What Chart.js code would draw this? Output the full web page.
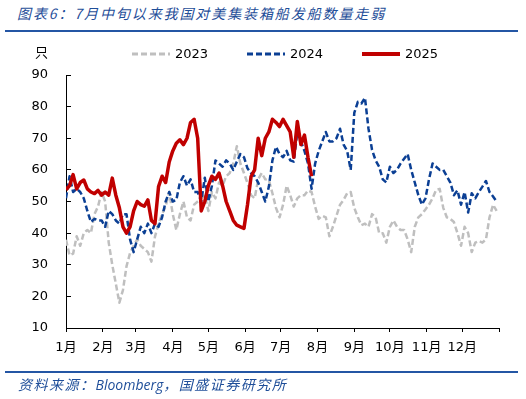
<!DOCTYPE html>
<html>
<head>
<meta charset="utf-8">
<script src="https://cdn.jsdelivr.net/npm/chart.js@4/dist/chart.umd.min.js"></script>
<style>
  body { margin: 0; background: #fff; }
  #wrap { position: relative; width: 526px; height: 399px; background: #fff; overflow: hidden; }
  #chart { position: absolute; left: 0; top: 0; }
  .title { position: absolute; left: 17px; top: 5px; font: italic 14px "Noto Sans CJK SC", sans-serif; letter-spacing: 1.9px; color: #1f4e99; line-height: 17px; white-space: nowrap; }
  .rule { position: absolute; left: 5px; width: 513px; height: 2px; background: #2456a4; }
  .source { position: absolute; left: 18px; top: 376px; font: italic 14px "Noto Sans CJK SC", sans-serif; letter-spacing: 1.5px; color: #1f4e99; line-height: 17px; white-space: nowrap; }
  .source span { font-family: "Open Sans", sans-serif; letter-spacing: 0; }
</style>
</head>
<body>
<div id="wrap">
  <div class="title">图表6：7月中旬以来我国对美集装箱船发船数量走弱</div>
  <div class="rule" style="top:30px"></div>
  <canvas id="chart" width="526" height="399"></canvas>
  <div class="rule" style="top:371px"></div>
  <div class="source">资料来源：<span>Bloomberg</span>，国盛证券研究所</div>
</div>
<script>
// 横轴：一年中的第几天（每3天取一个点），月初位置做刻度
const sampleDays = [0,3,6,9,12,15,18,21,24,27,30,33,36,39,42,45,48,51,54,57,60,63,66,69,72,75,78,81,84,87,
  90,93,96,99,102,105,108,111,114,117,120,123,126,129,132,135,138,141,144,147,150,153,156,159,162,165,168,171,174,177,
  180,183,186,189,192,195,198,201,204,207,210,213,216,219,222,225,228,231,234,237,240,243,246,249,252,255,258,261,264,267,
  270,273,276,279,282,285,288,291,294,297,300,303,306,309,312,315,318,321,324,327,330,333,336,339,342,345,348,351,354,357,
  360,363];
const monthStarts = [0, 31, 59, 90, 120, 151, 181, 212, 243, 273, 304, 334, 365];
const monthLabels = ['1月','2月','3月','4月','5月','6月','7月','8月','9月','10月','11月','12月'];
const unitLabel = '只';

// 发船数量（只）
const ships2023 = [37.9,33,33.5,39,36,40,41,40,46,48.4,
  53,50,37,30,24,18,22,29.5,33.7,36,
  38,36,35,34,31,38.9,43,46,48.5,53,
  46,41,46,50,45,44,49,50,51,52,
  47,53,51,56,55,58,59,62,67.5,62,
  59,55.8,52,51,57,59,57,56.8,52.6,48,
  45,49,55,52,48.4,51,52,52,53.5,53,
  48.4,44.5,45.5,45,39,42,45.5,49,50.5,52.6,
  53,48,45,42.5,43,42,46,45,40,40,
  37,42,44,42,41,41,38,34,42,45,
  46,47.5,49,51,53.7,54,48,45,44.5,43.5,
  40,36,42,40,34,37,37.5,37,38,45,
  49,47];
const ships2024 = [51,58,53,54,53,51,47,43.5,44.5,44,
  44,42,47,46,44,43,46,46,38,34,
  38,42,40,43,40,43,42,45,50,53,
  50,50.5,56,58,55,57,53,53,50,57.5,
  50,55,63,62,61,63,62,60,62.6,65,
  64,60.5,59,58,56,53,50,54.7,63,67.3,
  65,64,66,63,62.6,72,69,66,62,54,
  62,66,69,72,69,69,70,73,68,66,
  60,78,81.5,81,82.8,73,66.3,63,61,57,
  56,61,59,60,62,63.5,65,60,56,52,
  49,51,57,62,61,60,60,58,56,52,
  53.5,49,53,46.5,52.6,51,53,54.7,56.5,53,
  51.6,50];
const ships2025 = [53.7,55,58.5,54,56,56.8,54,53,52.5,53.5,
  52,53,52,57.4,52,48,42,40,42,47,
  50,49,48.5,50.5,44,43,54.7,58,56,62.5,
  66,68.4,69.5,68,70,75,76,70,47,50,
  55,58,57,59,55,50,47,44,42.5,42,
  41.5,49,57.9,60,70,64.5,70,72,76,75,
  73.7,76,74,72,64,75.3,68,71,64,58];

const tickFont = { family: '"DejaVu Sans", "Noto Sans CJK SC", sans-serif', size: 13 };

function toPoints(values) {
  return values.map((v, i) => ({ x: sampleDays[i], y: v }));
}

// 图例和单位自己画，方便放到和原图一样的位置
const lineLegend = {
  id: 'lineLegend',
  afterDraw(chart) {
    const ctx = chart.ctx;
    ctx.save();
    ctx.font = '13px "DejaVu Sans", "Noto Sans CJK SC", sans-serif';
    ctx.textBaseline = 'middle';
    ctx.fillStyle = '#000';
    ctx.fillText(unitLabel, 35, 54);
    chart.data.datasets.forEach((ds, i) => {
      const x = 132 + i * 115;
      ctx.strokeStyle = ds.borderColor;
      ctx.lineWidth = ds.borderWidth + 0.5;
      ctx.setLineDash(ds.borderDash || []);
      ctx.beginPath();
      ctx.moveTo(x, 54);
      ctx.lineTo(x + 38, 54);
      ctx.stroke();
      ctx.setLineDash([]);
      ctx.fillText(ds.label, x + 43, 54.5);
    });
    ctx.restore();
  }
};

const ctx = document.getElementById('chart').getContext('2d');
new Chart(ctx, {
  type: 'line',
  data: {
    datasets: [
      { label: '2023', data: toPoints(ships2023), borderColor: '#bfbfbf', borderWidth: 2.5, borderDash: [6, 3], order: 3 },
      { label: '2024', data: toPoints(ships2024), borderColor: '#0b3f94', borderWidth: 2.5, borderDash: [6, 3], order: 2 },
      { label: '2025', data: toPoints(ships2025), borderColor: '#c00000', borderWidth: 3.5, order: 1 }
    ]
  },
  options: {
    responsive: false,
    animation: false,
    devicePixelRatio: 1,
    elements: { point: { radius: 0 }, line: { tension: 0, borderJoinStyle: 'round' } },
    layout: { padding: { left: 0, right: 27, top: 75, bottom: 0 } },
    plugins: { legend: { display: false }, tooltip: { enabled: false } },
    scales: {
      x: {
        type: 'linear',
        min: 0,
        max: 365,
        afterBuildTicks: scale => { scale.ticks = monthStarts.map(v => ({ value: v })); },
        afterFit: scale => { scale.height = 71; },
        grid: { drawOnChartArea: false, tickLength: 4, color: '#000' },
        border: { color: '#000', width: 1 },
        ticks: {
          autoSkip: false,
          maxRotation: 0,
          padding: 8,
          color: '#000',
          font: tickFont,
          callback: (v, i) => monthLabels[i] || ''
        }
      },
      y: {
        min: 10,
        max: 90,
        afterFit: scale => { scale.width = 66; },
        grid: { drawOnChartArea: false, tickLength: -5, color: '#000' },
        border: { color: '#000', width: 1 },
        ticks: { stepSize: 10, padding: 23, color: '#000', font: tickFont }
      }
    }
  },
  plugins: [lineLegend]
});
</script>
</body>
</html>
